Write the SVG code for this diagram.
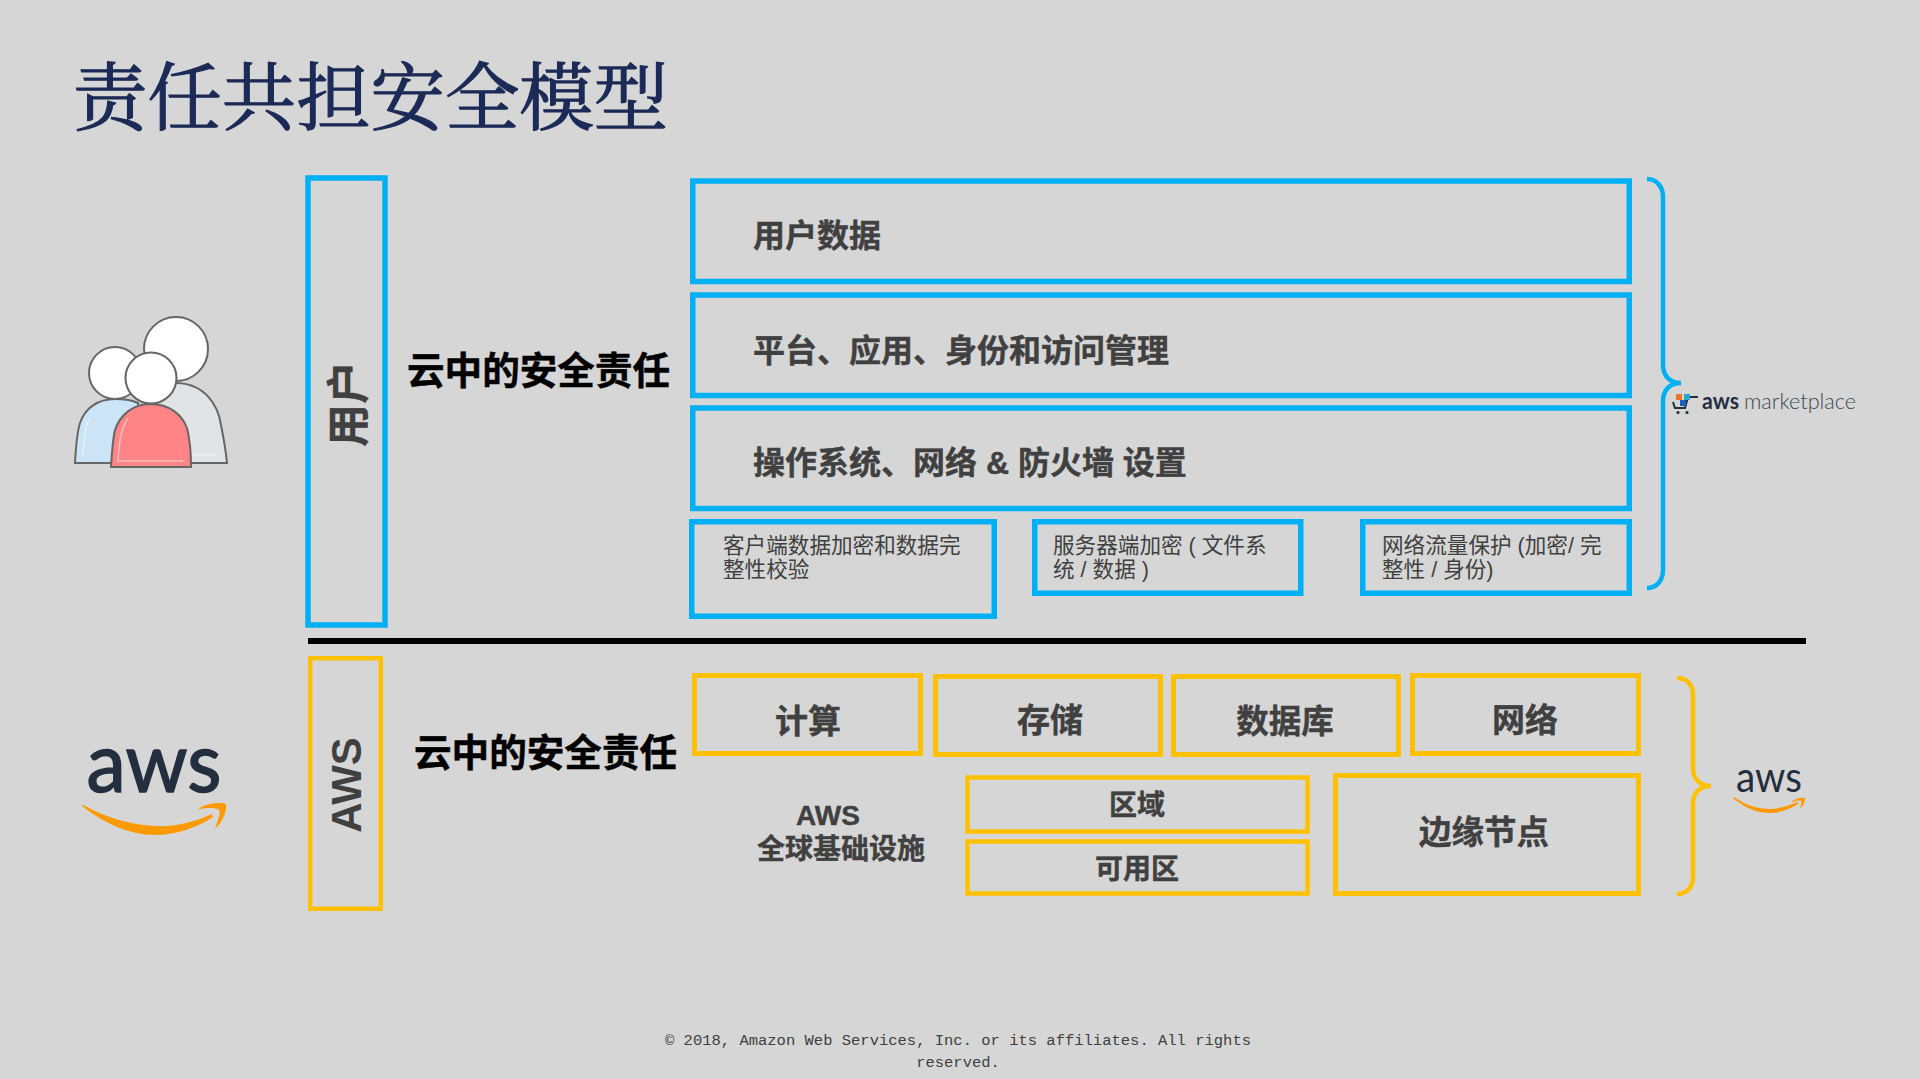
<svg xmlns="http://www.w3.org/2000/svg" width="1919" height="1079" viewBox="0 0 1919 1079">
<style>
text{font-family:"Liberation Sans","Noto Sans CJK SC",sans-serif;fill:#404040}
.b{fill:none;stroke:#00b0f5;stroke-width:5.5}
.y{fill:none;stroke:#ffc000;stroke-width:5}
.t{font-size:32px;font-weight:700;stroke:#404040;stroke-width:.4}
.s{font-size:21.6px}
.h{font-size:37.6px;font-weight:700;fill:#000;stroke:#000;stroke-width:.5}
.c{text-anchor:middle}
.p{stroke:#666;stroke-width:2}
.r{font-size:28px;font-weight:700;stroke:#404040;stroke-width:.4}
.hl{fill:none;stroke:#fff;stroke-opacity:.45;stroke-width:1.5}
.logo{font-family:Lato,sans-serif;fill:#232f3e}
</style>
<rect width="1919" height="1079" fill="#d6d6d6"/>
<text id="title" x="73" y="124" font-size="74.4" style="fill:#1b2a56;stroke:#1b2a56;stroke-width:1.2;font-family:'Noto Serif CJK SC','Noto Sans CJK SC',serif">责任共担安全模型</text>
<g id="users-icon">
<path class="p" d="M150 463V383H177C205 384 218 405 221 425C224 440 226 452 227 463Z" fill="#e2e3e5"/>
<path class="hl" d="M192 455H218"/>
<circle class="p" cx="176" cy="349" r="32" fill="#fff"/>
<path class="p" d="M75 463C76 445 77 432 80 423C85 408 98 399 115 399C125 399 132 400 138 403L150 463Z" fill="#cbe4f7"/>
<path class="hl" d="M83 457C84 440 85 425 90 418"/>
<circle class="p" cx="115" cy="373" r="26" fill="#fff"/>
<path class="p" d="M111 467C112 450 113 438 115 430C120 415 133 404 150 404C170 404 182 415 187 428C190 440 191 455 191 467Z" fill="#fe8486"/>
<path class="hl" d="M185 461H118C119 445 120 430 128 418"/>
<circle class="p" cx="151" cy="378" r="25.5" fill="#fff"/>
</g>
<g id="aws-logo">
<text x="154" y="792" class="c logo" textLength="135" lengthAdjust="spacingAndGlyphs" style="font-size:84px;stroke:#232f3e;stroke-width:1.5">aws</text>
<path fill="#ff9900" d="M82 806C105 824 130 835 155 835C177 835 198 827 213 817L212 814C195 822 175 827 155 826C130 825 105 817 83 805Z"/>
<path fill="#ff9900" d="M199 808C208 803 220 802 226 804C227 812 222 823 215 829C218 820 221 813 219 810C216 807 206 808 199 809Z"/>
</g>
<g id="connectors">
<path d="M308 641H1806" stroke="#000" stroke-width="6" fill="none"/>
<path class="b" style="stroke-width:4.5" d="M1647 179C1657 179 1663 187 1663 197V365C1663 376 1670 383 1681 383C1670 383 1663 390 1663 401V570C1663 580 1657 588 1647 588"/>
<path class="y" style="stroke-width:4.5" d="M1677 678C1687 678 1693 685 1693 695V768C1693 779 1700 786 1711 786C1700 786 1693 793 1693 803V877C1693 887 1687 894 1677 894"/>
</g>
<g id="user-column"><rect class="b" x="308" y="178" width="77" height="447"/><text transform="translate(364,404) rotate(-90)" class="t c" style="font-size:43px">用户</text></g>
<text id="user-h" x="407" y="384" class="h">云中的安全责任</text>
<g id="row1"><rect class="b" x="692.75" y="181" width="936.5" height="100.5"/><text x="753" y="247" class="t">用户数据</text></g>
<g id="row2"><rect class="b" x="692.75" y="295" width="936.5" height="100.5"/><text x="753" y="362" class="t">平台、应用、身份和访问管理</text></g>
<g id="row3"><rect class="b" x="692.75" y="408" width="936.5" height="100.5"/><text x="753" y="474" class="t">操作系统、网络 &amp; 防火墙 设置</text></g>
<g id="sub1"><rect class="b" x="691.75" y="521.75" width="302.5" height="94.5"/><text class="s"><tspan x="723" y="553">客户端数据加密和数据完</tspan><tspan x="723" y="577">整性校验</tspan></text></g>
<g id="sub2"><rect class="b" x="1034.75" y="521.75" width="266" height="71.5"/><text class="s"><tspan x="1053" y="553">服务器端加密 ( 文件系</tspan><tspan x="1053" y="577">统 / 数据 )</tspan></text></g>
<g id="sub3"><rect class="b" x="1362.75" y="521.75" width="266.5" height="71.5"/><text class="s"><tspan x="1382" y="553">网络流量保护 (加密/ 完</tspan><tspan x="1382" y="577">整性 / 身份)</tspan></text></g>
<g id="aws-column"><rect class="y" x="310.25" y="658.25" width="70.5" height="250.5" style="stroke-width:4.5"/><text transform="translate(361,785) rotate(-90)" class="c" style="font-size:42px;font-weight:700">AWS</text></g>
<text id="aws-h" x="414" y="766" class="h">云中的安全责任</text>
<g id="compute"><rect class="y" x="694.5" y="675.5" width="226" height="78"/><text x="808" y="733" class="t c" style="font-size:33px">计算</text></g>
<g id="storage"><rect class="y" x="935.5" y="676.5" width="225" height="78"/><text x="1050" y="732" class="t c" style="font-size:33px">存储</text></g>
<g id="db"><rect class="y" x="1173.5" y="676.5" width="225" height="78"/><text x="1285" y="733" class="t c" style="font-size:32.5px">数据库</text></g>
<g id="net"><rect class="y" x="1412.5" y="675.5" width="226" height="78"/><text x="1525" y="732" class="t c" style="font-size:33px">网络</text></g>
<g id="infra"><text class="t c" style="font-size:28px"><tspan x="828" y="825">AWS</tspan><tspan x="841" y="859">全球基础设施</tspan></text></g>
<g id="region"><rect class="y" x="967.5" y="777.5" width="340" height="54" style="stroke-width:4.5"/><text x="1137" y="815" class="c r">区域</text></g>
<g id="az"><rect class="y" x="967.5" y="841.5" width="340" height="52" style="stroke-width:4.5"/><text x="1137" y="879" class="c r">可用区</text></g>
<g id="edge"><rect class="y" x="1335.5" y="775.5" width="303" height="118"/><text x="1484" y="844" class="t c" style="font-size:32.5px">边缘节点</text></g>
<g id="marketplace">
<path d="M1698 397H1688L1685 408H1675L1673 402" fill="none" stroke="#232f3e" stroke-width="2"/>
<circle cx="1678" cy="412.5" r="1.6" fill="#232f3e"/><circle cx="1687" cy="412.5" r="1.6" fill="#232f3e"/>
<rect x="1676" y="394" width="6" height="6" fill="#e8792b"/><rect x="1684" y="394" width="6" height="6" fill="#2aa6c9"/><rect x="1680" y="400" width="6" height="6" fill="#1f5fb5"/>
<text x="1702" y="409" textLength="37" lengthAdjust="spacingAndGlyphs" style="font-size:22px;font-weight:700;fill:#232f3e;font-family:Lato">aws</text>
<text x="1744" y="409" textLength="112" lengthAdjust="spacingAndGlyphs" style="font-size:22px;font-weight:300;fill:#3c4654;font-family:Lato">marketplace</text>
</g>
<g id="aws-logo-small">
<text x="1769" y="792" textLength="66" lengthAdjust="spacingAndGlyphs" class="c logo" style="font-size:43px">aws</text>
<path fill="#ff9900" d="M1733 798C1745 808 1757 813 1770 813C1780 813 1790 809 1798 804L1797 802C1788 806 1778 809 1770 809C1757 809 1745 805 1734 797Z"/>
<path fill="#ff9900" d="M1792 801C1797 798 1802 797 1805 798C1805 802 1803 806 1800 809C1801 805 1802 802 1801 801C1799 800 1796 801 1792 802Z"/>
</g>
<text id="footer" style="font-family:'Liberation Mono','DejaVu Sans Mono',monospace;font-size:15.5px;fill:#404040" class="c"><tspan x="958" y="1045">© 2018, Amazon Web Services, Inc. or its affiliates. All rights</tspan><tspan x="958" y="1067">reserved.</tspan></text>
</svg>
